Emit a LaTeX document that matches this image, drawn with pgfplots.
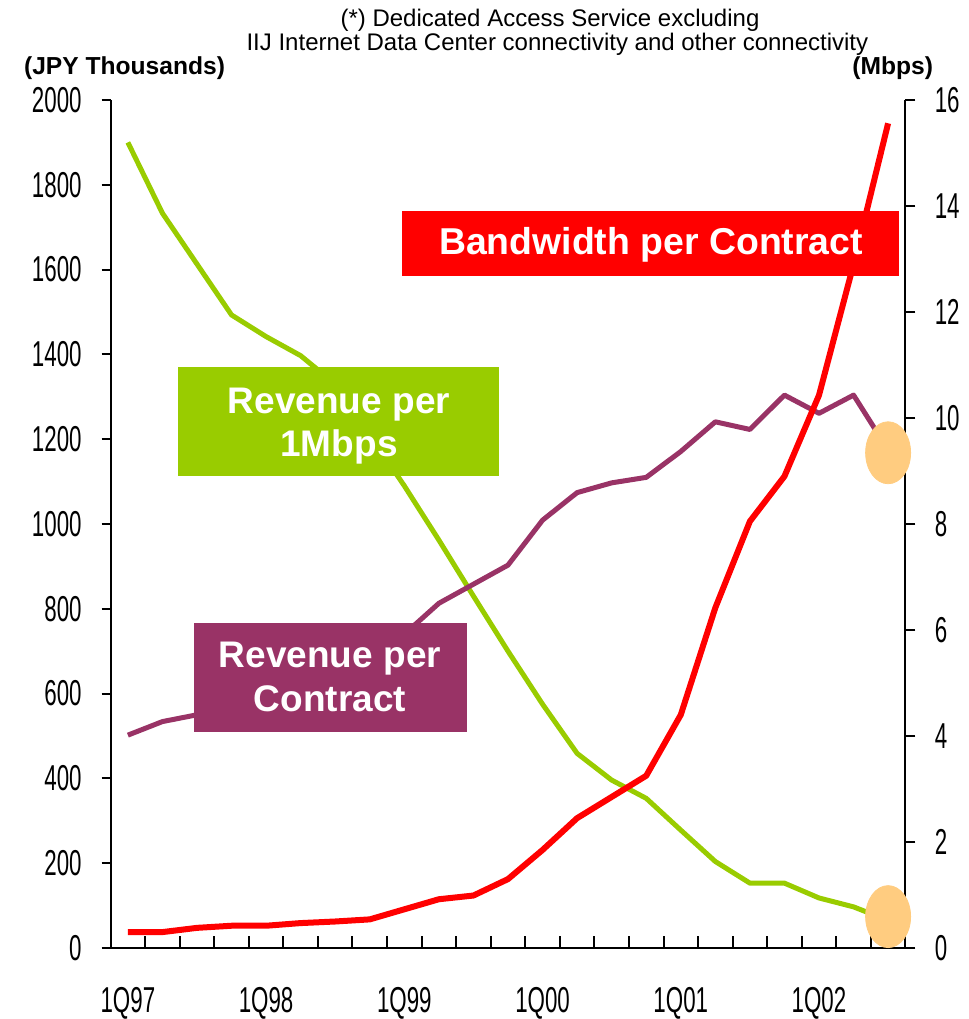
\documentclass[border=0pt]{standalone}
\usepackage{fontspec}
\setmainfont{Liberation Sans}
\newfontfamily\narrow[FakeStretch=0.62]{Liberation Sans}
\usepackage{pgfplots}
\usepackage{pgfplotstable}
\pgfplotsset{compat=1.18}
\definecolor{bwred}{HTML}{FF0000}
\definecolor{rmgreen}{HTML}{99CC00}
\definecolor{rcpurple}{HTML}{993366}
\definecolor{spot}{HTML}{FFCC80}

% quarter index (0 = 1Q97), revenue per 1Mbps, revenue per contract (JPY k), bandwidth per contract (Mbps)
\pgfplotstableread{
q  green  purple  red
0  1900   502     0.30
1  1733   534     0.30
2  1613   550     0.38
3  1493   565     0.42
4  1442   590     0.42
5  1397   620     0.47
6  1330   650     0.50
7  1210   690     0.54
8  1090   740     0.73
9  962    813     0.92
10 830    858     0.99
11 700    903     1.30
12 575    1009    1.85
13 459    1074    2.45
14 396    1097    2.85
15 353    1110    3.25
16 278    1171    4.40
17 204    1241    6.42
18 153    1223    8.05
19 153    1304    8.90
20 118    1261    10.43
21 97     1304    12.90
22 65     1175    15.56
}\datatable

\pgfplotsset{
  base/.style={
    scale only axis, width=397.4pt, height=424pt,
    at={(55.3pt,35.5pt)}, anchor=south west,
    xmin=-0.5, xmax=22.5, clip=false,
    axis line style={line width=1pt, black},
    tick style={line width=1pt, black},
    ticklabel style={font=\narrow\fontsize{18}{18}\selectfont},
    /pgf/number format/assume math mode=true,
    /pgf/number format/1000 sep={},
    scaled y ticks=false,
  },
}

\begin{document}
\begin{tikzpicture}
% inward quarter ticks on the x axis
\begin{axis}[base, ymin=0, ymax=1, axis x line*=bottom, axis y line=none,
  tick align=inside, major tick length=6pt,
  xtick={0.5,1.5,...,21.5}, xticklabels={}]
\end{axis}
% left axis: JPY thousands
\begin{axis}[base, ymin=0, ymax=2000, axis x line*=bottom, axis y line*=left,
  tick align=outside, major tick length=4.5pt,
  ytick={0,200,...,2000},
  xtick={0,4,8,12,16,20}, xticklabels={1Q97,1Q98,1Q99,1Q00,1Q01,1Q02},
  xtick style={draw=none},
  xticklabel style={anchor=north, inner sep=0pt, yshift=-15pt},
  yticklabel style={anchor=east, inner sep=0pt, xshift=-9.8pt}]
\addplot[rmgreen, line width=2.5pt, line join=round] table[x=q, y=green] {\datatable};
\addplot[rcpurple, line width=2.5pt, line join=round] table[x=q, y=purple] {\datatable};
\end{axis}
% right axis: Mbps
\begin{axis}[base, ymin=0, ymax=16, axis x line=none, axis y line*=right,
  tick align=outside, major tick length=5pt,
  ytick={0,2,...,16},
  yticklabel style={anchor=west, inner sep=0pt, xshift=9.5pt}]
\addplot[bwred, line width=3pt, line join=round] table[x=q, y=red] {\datatable};
\addplot[spot, only marks, mark=*, mark size=15.5pt,
  mark options={xscale=0.726, draw=spot, fill=spot}] coordinates {(22,9.344) (22,0.592)};
\end{axis}
% labels
\fill[bwred] (201pt,371.5pt) rectangle (449.5pt,404pt);
\node[anchor=base, white, font=\bfseries\fontsize{18.7}{20}\selectfont] at (325.5pt,382pt) {Bandwidth per Contract};
\fill[rmgreen] (89pt,271.5pt) rectangle (249.5pt,326pt);
\node[anchor=base, white, font=\bfseries\fontsize{18.5}{20}\selectfont] at (169.5pt,302.5pt) {Revenue per};
\node[anchor=base, white, font=\bfseries\fontsize{18.5}{20}\selectfont] at (169.5pt,281pt) {1Mbps};
\fill[rcpurple] (97pt,143.5pt) rectangle (233.5pt,198pt);
\node[anchor=base, white, font=\bfseries\fontsize{18.5}{20}\selectfont] at (165pt,175.5pt) {Revenue per};
\node[anchor=base, white, font=\bfseries\fontsize{18.5}{20}\selectfont] at (165pt,153.5pt) {Contract};
\node[anchor=base west, font=\bfseries\fontsize{12.3}{14}\selectfont] at (8.5pt,472pt) {(JPY Thousands)};
\node[anchor=base east, font=\bfseries\fontsize{12.3}{14}\selectfont] at (470pt,472pt) {(Mbps)};
\node[anchor=base, font=\fontsize{12}{14}\selectfont] at (275pt,496pt) {(*) Dedicated Access Service excluding};
\node[anchor=base, font=\fontsize{12}{14}\selectfont] at (278.7pt,484pt) {IIJ Internet Data Center connectivity and other connectivity};
\pgfresetboundingbox
\useasboundingbox (0pt,0pt) rectangle (484.5pt,509.5pt);
\end{tikzpicture}
\end{document}
